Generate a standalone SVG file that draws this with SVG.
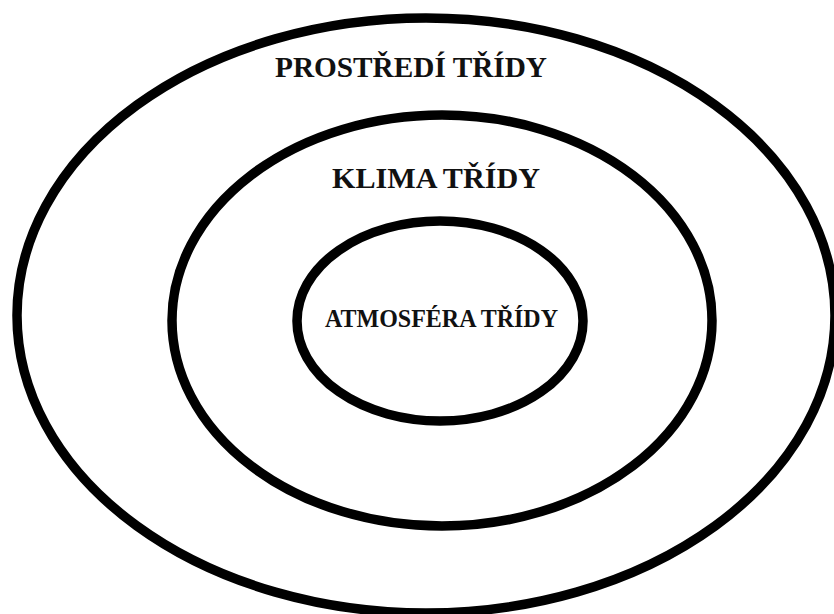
<svg xmlns="http://www.w3.org/2000/svg" width="834" height="614" viewBox="0 0 834 614">
<style>
.ring{fill:none;stroke:#000;stroke-width:9.5}
.lbl{font-family:"Liberation Serif","Times New Roman",serif;font-weight:bold;fill:#111;text-anchor:middle}
</style>
<rect width="834" height="614" fill="#fff"/>
<g id="outer">
<ellipse class="ring" cx="426" cy="315.5" rx="409" ry="297.5"/>
<text class="lbl" x="411" y="77" font-size="29.5" textLength="272" lengthAdjust="spacingAndGlyphs">PROSTŘEDÍ TŘÍDY</text>
</g>
<g id="middle">
<ellipse class="ring" cx="442" cy="320.5" rx="270" ry="205.5"/>
<text class="lbl" x="436" y="188" font-size="28.5" textLength="208" lengthAdjust="spacingAndGlyphs">KLIMA TŘÍDY</text>
</g>
<g id="inner">
<ellipse class="ring" cx="440" cy="321" rx="143" ry="100"/>
<text class="lbl" x="441.5" y="327" font-size="25" textLength="233" lengthAdjust="spacingAndGlyphs">ATMOSFÉRA TŘÍDY</text>
</g>
<g id="connectors"></g>
</svg>
